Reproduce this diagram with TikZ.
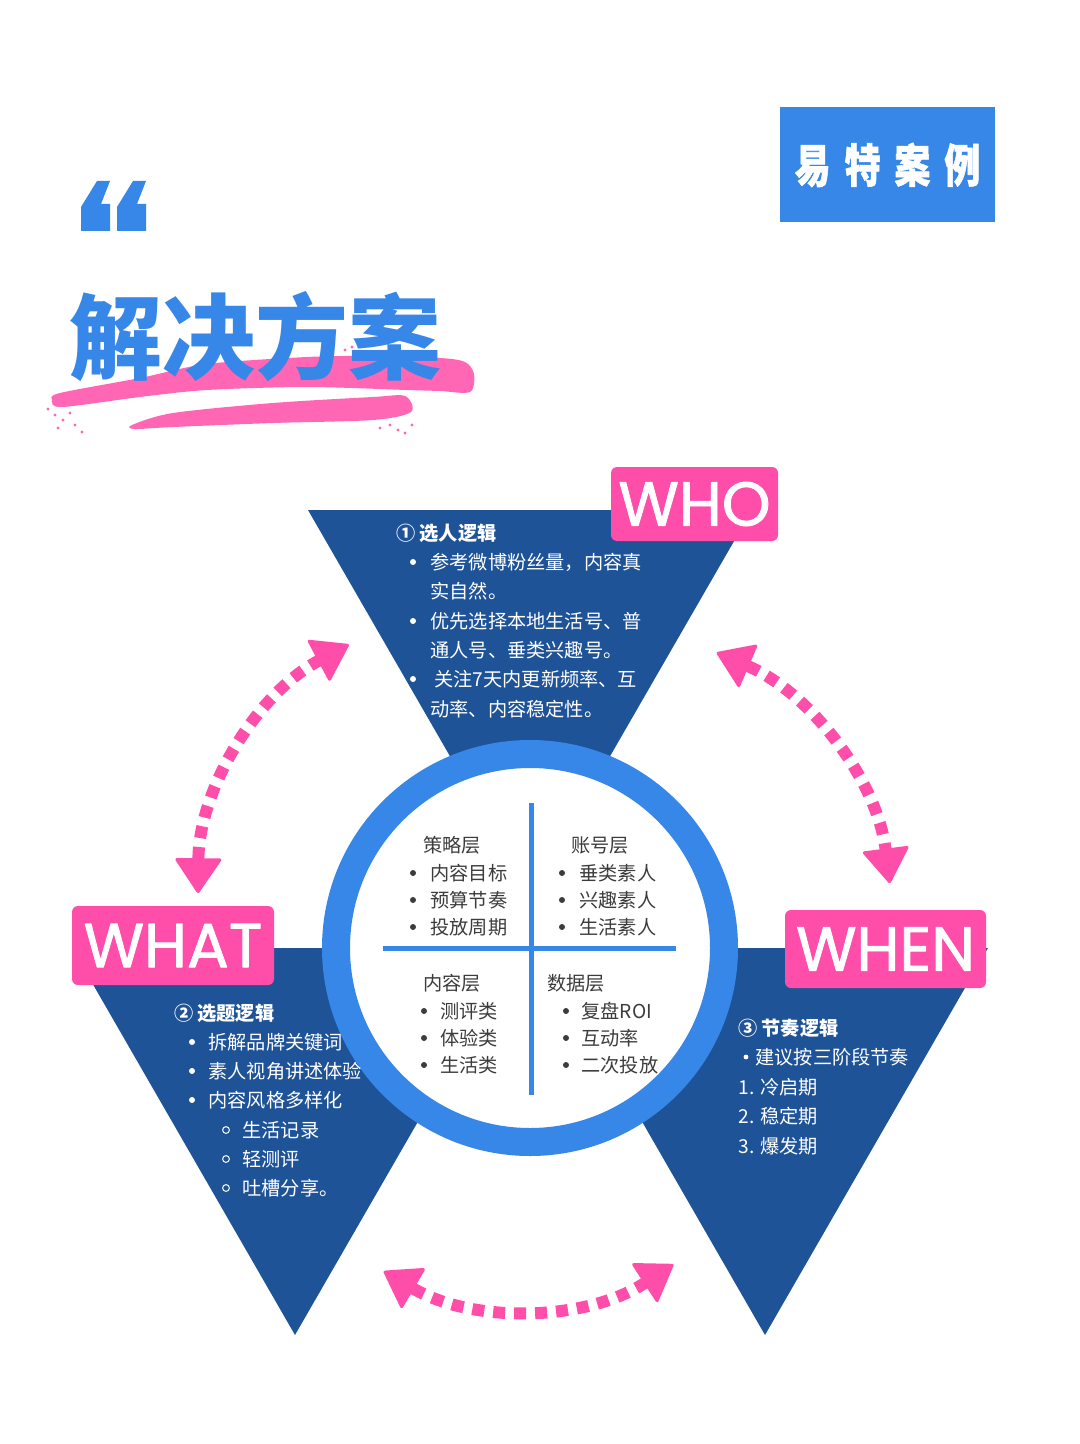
\documentclass[tikz,border=0pt]{standalone}
\usepackage{fontspec}
\setmainfont{Noto Sans CJK SC}
\newfontfamily\tagfont[FakeBold=1.4]{Poppins}
\newfontfamily\casefont[FakeStretch=0.78, FakeBold=1.2]{Noto Sans CJK SC}
\usetikzlibrary{arrows.meta}

\definecolor{navy}{RGB}{30,83,152}
\definecolor{ringblue}{RGB}{55,135,232}
\definecolor{hotpink}{RGB}{255,78,170}
\definecolor{brushpink}{RGB}{255,102,180}
\definecolor{inkgray}{RGB}{60,60,60}

\tikzset{
  tri/.style={fill=navy},
  tag/.style={fill=hotpink, rounded corners=3pt, text=white, inner sep=0pt, font=\tagfont\fontsize{31}{31}\selectfont},
  txt/.style={anchor=west, inner sep=0pt, text height=8.45pt, text depth=1.15pt, font=\fontsize{9.6}{12}\selectfont},
  headtxt/.style={txt, font=\bfseries\fontsize{9.6}{12}\selectfont},
  bdot/.style={circle, fill=#1, inner sep=0pt, minimum size=3pt},
  hdot/.style={circle, draw=white, line width=.5pt, inner sep=0pt, minimum size=3.4pt},
  linkarrow/.style={hotpink, line width=6pt, dash pattern=on 6pt off 4.5pt,
    {Triangle[length=18pt,width=24pt,line width=1.5pt,round]}-{Triangle[length=18pt,width=24pt,line width=1.5pt,round]}},
}

\begin{document}
\begin{tikzpicture}[x=0.5pt, y=-0.5pt, line join=round]
  \fill[white] (0,0) rectangle (1080,1444);
  \useasboundingbox (0,0) rectangle (1080,1444);

  % quote mark
  \foreach \dx in {0,36}
    \fill[ringblue, shift={(\dx,0)}] (81,231) -- (110,231) -- (110,204) -- (101,204) -- (110,181) -- (97,181) -- (81,207) -- cycle;

  % case label
  \node[fill=ringblue, minimum width=107.5pt, minimum height=57.5pt, text=white,
    font=\casefont\bfseries\fontsize{23}{23}\selectfont] (case) at (887.5,165) {易\hspace{7pt}特\hspace{7pt}案\hspace{7pt}例};

  % brush strokes
  \fill[brushpink] plot[smooth cycle, tension=0.5] coordinates {(52,400) (60,393) (140,378) (207,364) (307,357) (373,356) (440,358) (465,362) (474,374) (470,392) (440,391) (407,390) (307,387) (207,390) (140,397) (62,407)};
  \fill[brushpink] plot[smooth cycle, tension=0.5] coordinates {(132,425) (173,413) (273,403) (373,397) (405,396) (411,412) (373,420) (273,423) (173,427) (135,429)};
  \foreach \p in {(48,409),(55,415),(63,420),(70,413),(75,425),(82,432),(58,428),(345,350),(352,347),(330,352),(390,425),(398,430),(405,433),(380,428),(412,425)}
    \fill[brushpink] \p circle (1.6);
  \node[font=\bfseries\fontsize{46.5}{50}\selectfont, text=ringblue, inner sep=0pt] (title) at (255,337) {解决方案};

  % triangles
  \fill[tri] (308,510) -- (752,510) -- (530,895) -- cycle;
  \fill[tri] (72,948) -- (518,948) -- (295,1335) -- cycle;
  \fill[tri] (542,948) -- (988,948) -- (765,1335) -- cycle;

  \node[tag, minimum width=83.5pt, minimum height=37pt] (who) at (694.5,504) {WHO};
  \node[tag, minimum width=101pt, minimum height=39.5pt] (what) at (173,945.5) {WHAT};
  \node[tag, minimum width=100.5pt, minimum height=39pt] (when) at (885.5,949) {WHEN};

  % hub
  \node[circle, draw=ringblue, line width=14pt, fill=white, minimum size=194pt, inner sep=0pt] (hub) at (530,948) {};
  \draw[ringblue, line width=2.5pt] (531,803) -- (531,1095) (383,948) -- (676,948);

  \node[txt, text=inkgray] (q1) at (423,845) {策略层};
  \node[txt, text=inkgray] (q2) at (571,845) {账号层};
  \node[txt, text=inkgray] (q3) at (423,983) {内容层};
  \node[txt, text=inkgray] (q4) at (547,983) {数据层};
  \foreach \y/\a/\b [count=\i] in {873/内容目标/垂类素人, 900/预算节奏/兴趣素人, 927/投放周期/生活素人} {
    \node[bdot=inkgray] (q1b\i) at (413,\y) {};
    \node[txt, text=inkgray] (q1t\i) at (430,\y) {\a};
    \node[bdot=inkgray] (q2b\i) at (562,\y) {};
    \node[txt, text=inkgray] (q2t\i) at (579,\y) {\b};
  }
  \foreach \y/\a/\b [count=\i] in {1011/测评类/复盘ROI, 1038/体验类/互动率, 1065/生活类/二次投放} {
    \node[bdot=inkgray] (q3b\i) at (424,\y) {};
    \node[txt, text=inkgray] (q3t\i) at (440,\y) {\a};
    \node[bdot=inkgray] (q4b\i) at (566,\y) {};
    \node[txt, text=inkgray] (q4t\i) at (581,\y) {\b};
  }

  % WHO text
  \node[headtxt, text=white] (whohead) at (396,533) {①\hspace{2pt}选人逻辑};
  \foreach \x/\y/\t [count=\i] in {430/562/参考微博粉丝量，内容真, 430/591/实自然。, 430/621/优先选择本地生活号、普, 430/650/通人号、垂类兴趣号。, 434/679/关注7天内更新频率、互, 430/709/动率、内容稳定性。}
    \node[txt, text=white] (who\i) at (\x,\y) {\t};
  \foreach \y [count=\i] in {562,621,679}
    \node[bdot=white] (whob\i) at (413,\y) {};

  % WHAT text
  \node[headtxt, text=white] (whathead) at (174,1013) {②\hspace{2pt}选题逻辑};
  \foreach \y/\t [count=\i] in {1042/拆解品牌关键词, 1071/素人视角讲述体验, 1100/内容风格多样化} {
    \node[bdot=white] (whatb\i) at (192,\y) {};
    \node[txt, text=white] (what\i) at (208,\y) {\t};
  }
  \foreach \y/\t [count=\i] in {1130/生活记录, 1159/轻测评, 1188/吐槽分享。} {
    \node[hdot] (whats\i) at (226,\y) {};
    \node[txt, text=white] (whatsub\i) at (242,\y) {\t};
  }

  % WHEN text
  \node[headtxt, text=white] (whenhead) at (738,1028) {③\hspace{2pt}节奏逻辑};
  \node[bdot=white, minimum size=2.4pt] (whenb) at (746,1057) {};
  \node[txt, text=white] (when0) at (755,1057) {建议按三阶段节奏};
  \foreach \y/\t [count=\i] in {1087/1. 冷启期, 1116/2. 稳定期, 1146/3. 爆发期}
    \node[txt, text=white] (when\i) at (738,\y) {\t};

  % arrows
  \coordinate (lc) at (483,896);
  \coordinate (rc) at (602,919);
  \coordinate (bc) at (523,1033);
  \draw[linkarrow] (lc) ++(180.6:285) arc[start angle=180.6, end angle=241.9, radius=285];
  \draw[linkarrow] (rc) ++(293.3:290) arc[start angle=293.3, end angle=352.9, radius=290];
  \draw[linkarrow] (bc) ++(120.3:276) arc[start angle=120.3, end angle=57, radius=276];
\end{tikzpicture}
\end{document}
